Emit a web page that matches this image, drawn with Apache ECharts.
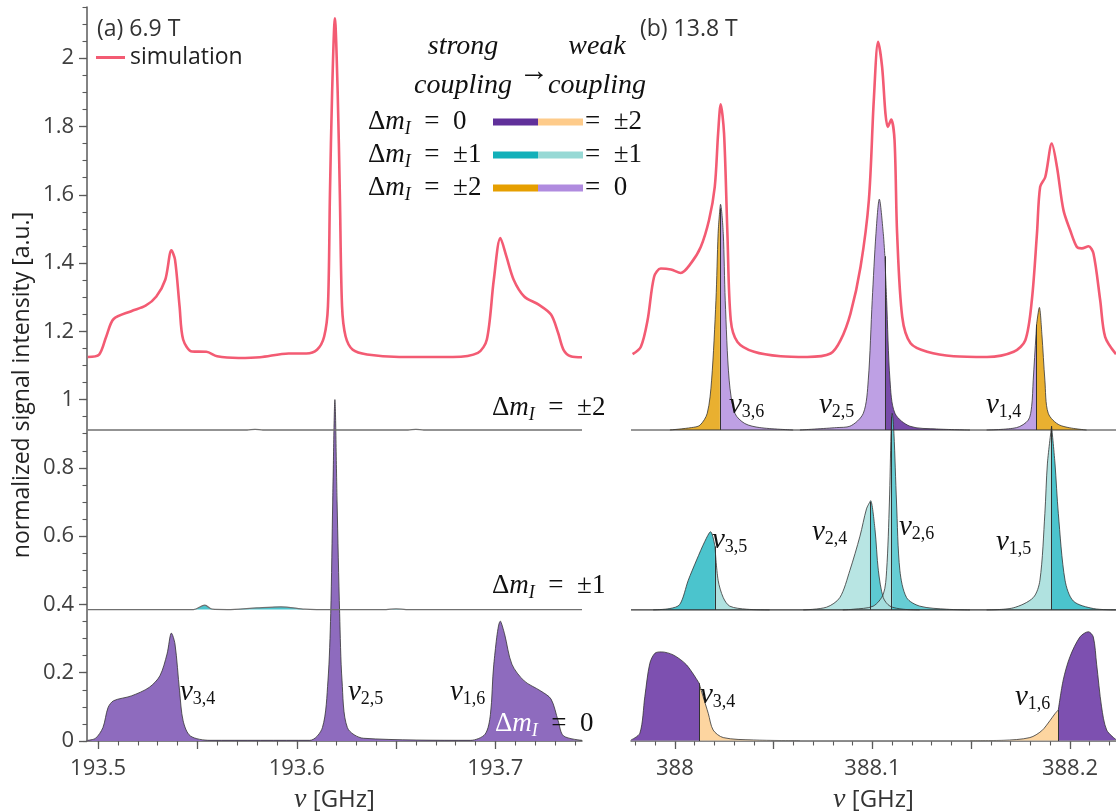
<!DOCTYPE html>
<html><head><meta charset="utf-8">
<script src="https://cdn.jsdelivr.net/npm/echarts@6/dist/echarts.min.js"></script>
<style>html,body{margin:0;padding:0;background:#fff}#c{width:1116px;height:812px}</style>
</head><body><div id="c"></div>
<script>
// ---------- data (GHz, normalized intensity) ----------
// panel (a) 6.9 T
const simA = [[193.4948,1.125],[193.5005,1.132],[193.5041,1.185],[193.5078,1.236],[193.5167,1.259],[193.5239,1.275],[193.5293,1.302],[193.5338,1.351],[193.5369,1.437],[193.5387,1.41],[193.541,1.273],[193.5428,1.176],[193.5473,1.141],[193.5545,1.14],[193.5599,1.127],[193.5707,1.122],[193.5815,1.124],[193.5959,1.135],[193.6048,1.135],[193.6102,1.146],[193.6138,1.185],[193.6157,1.273],[193.6167,1.6],[193.6178,1.9],[193.6192,2.117],[193.6206,1.9],[193.6217,1.6],[193.6228,1.273],[193.6246,1.185],[193.6282,1.146],[193.6354,1.132],[193.6516,1.125],[193.6786,1.125],[193.6912,1.137],[193.6957,1.176],[193.6992,1.351],[193.7025,1.473],[193.7055,1.42],[193.7092,1.351],[193.7145,1.302],[193.7218,1.278],[193.728,1.249],[193.7316,1.195],[193.7343,1.146],[193.7379,1.127],[193.7436,1.124]];
const dm0A = [[193.4948,0.002],[193.4987,0.008],[193.5024,0.039],[193.505,0.098],[193.5078,0.118],[193.5167,0.132],[193.5257,0.157],[193.5311,0.191],[193.5347,0.255],[193.5369,0.316],[193.5387,0.284],[193.541,0.147],[193.5428,0.059],[193.5464,0.015],[193.5563,0.002],[193.6066,0.002],[193.6129,0.039],[193.6157,0.176],[193.6171,0.373],[193.6181,0.7],[193.6192,1.0],[193.6203,0.7],[193.6216,0.373],[193.6228,0.176],[193.6255,0.039],[193.6336,0.008],[193.6875,0.002],[193.6948,0.02],[193.6975,0.078],[193.6992,0.225],[193.7025,0.351],[193.7046,0.314],[193.7083,0.225],[193.7145,0.176],[193.7227,0.147],[193.728,0.123],[193.7316,0.059],[193.7343,0.015],[193.7436,0.002]];
const dm1A = [[193.4948,0.385],[193.548,0.385],[193.5537,0.398],[193.5575,0.386],[193.565,0.385],[193.58,0.39],[193.592,0.393],[193.604,0.386],[193.61,0.385],[193.645,0.385],[193.65,0.387],[193.655,0.385],[193.7436,0.385]];
const dm2A = [[193.4948,0.911],[193.575,0.911],[193.579,0.913],[193.583,0.911],[193.656,0.911],[193.66,0.913],[193.664,0.911],[193.7436,0.911]];
const baseA = [0, 0.385, 0.911];

// panel (b) 13.8 T
const simB = [[387.9786,1.133],[387.9828,1.155],[387.9862,1.233],[387.9895,1.36],[387.9929,1.384],[387.998,1.381],[388.003,1.371],[388.0081,1.399],[388.0131,1.447],[388.0173,1.526],[388.0202,1.623],[388.0219,1.78],[388.0232,1.865],[388.0249,1.78],[388.0266,1.487],[388.0283,1.233],[388.0317,1.169],[388.0401,1.14],[388.0536,1.127],[388.067,1.125],[388.0788,1.135],[388.0839,1.174],[388.0889,1.252],[388.094,1.389],[388.0982,1.584],[388.1007,1.877],[388.1029,2.048],[388.1049,1.975],[388.1066,1.838],[388.1078,1.799],[388.1095,1.82],[388.1112,1.76],[388.1125,1.487],[388.1151,1.242],[388.1193,1.165],[388.1277,1.14],[388.1411,1.127],[388.158,1.125],[388.1715,1.14],[388.1774,1.174],[388.1807,1.291],[388.1833,1.487],[388.1849,1.623],[388.1875,1.652],[388.1908,1.75],[388.1934,1.682],[388.1967,1.555],[388.2001,1.496],[388.2035,1.447],[388.206,1.443],[388.2094,1.449],[388.2119,1.428],[388.2153,1.291],[388.2178,1.184],[388.2233,1.133]];
const baseB = [0, 0.384, 0.911];
// delta m = +-2 band
const nu36Strong = [[387.9975,0.911],[388.0084,0.918],[388.0127,0.925],[388.0164,0.96],[388.0186,1.057],[388.0208,1.291],[388.0219,1.487],[388.0228,1.56]];
const nu36Weak = [[388.0228,1.56],[388.0231,1.572],[388.0245,1.487],[388.0255,1.291],[388.0275,1.057],[388.0304,0.96],[388.0354,0.93],[388.043,0.918],[388.0599,0.911]];
const nu25Weak = [[388.0633,0.911],[388.0819,0.918],[388.0886,0.922],[388.0954,0.96],[388.0979,1.057],[388.0999,1.291],[388.1018,1.487],[388.1035,1.587],[388.1055,1.487],[388.1063,1.42]];
const nu25Dark = [[388.1063,1.42],[388.1072,1.291],[388.1089,1.057],[388.1114,0.96],[388.119,0.922],[388.1325,0.914],[388.1494,0.911]];
const nu14Weak = [[388.1578,0.911],[388.173,0.918],[388.1789,0.94],[388.1806,0.98],[388.1814,1.057],[388.1828,1.19],[388.1831,1.22]];
const nu14Strong = [[388.1831,1.22],[388.1845,1.27],[388.1858,1.19],[388.1873,1.057],[388.189,0.96],[388.1949,0.925],[388.2084,0.911]];
// delta m = +-1 band
const nu35Strong = [[387.989,0.384],[387.9975,0.388],[388.0025,0.4],[388.0068,0.471],[388.011,0.53],[388.0152,0.585],[388.0181,0.613],[388.0203,0.57]];
const nu35Weak = [[388.0203,0.57],[388.0219,0.471],[388.0245,0.42],[388.0278,0.395],[388.0363,0.386],[388.048,0.384]];
const nu24Weak = [[388.065,0.384],[388.0768,0.392],[388.0835,0.42],[388.0886,0.5],[388.0937,0.6],[388.097,0.68],[388.0987,0.7]];
const nu24Strong = [[388.0987,0.7],[388.0991,0.704],[388.1013,0.62],[388.103,0.5],[388.1055,0.42],[388.1089,0.395],[388.1156,0.386],[388.124,0.384]];
const nu26Weak = [[388.085,0.384],[388.0903,0.386],[388.1004,0.395],[388.1055,0.43],[388.1072,0.5],[388.1086,0.7],[388.1094,0.9],[388.1097,0.95]];
const nu26Strong = [[388.1097,0.95],[388.11,0.96],[388.1109,0.9],[388.1122,0.7],[388.1139,0.5],[388.1173,0.42],[388.124,0.395],[388.1376,0.386],[388.1494,0.384]];
const nu15Weak = [[388.1578,0.384],[388.1713,0.39],[388.1814,0.42],[388.1848,0.471],[388.1873,0.667],[388.1886,0.814],[388.1907,0.922]];
const nu15Strong = [[388.1907,0.922],[388.1924,0.814],[388.1941,0.667],[388.1975,0.471],[388.2017,0.41],[388.2118,0.388],[388.2232,0.384]];
// delta m = 0 band
const nu34Strong = [[387.9778,0.003],[387.9823,0.023],[387.9848,0.13],[387.9873,0.227],[387.9899,0.257],[387.9932,0.261],[387.9992,0.252],[388.0059,0.223],[388.0123,0.169]];
const nu34Weak = [[388.0123,0.169],[388.0143,0.13],[388.0169,0.081],[388.0194,0.032],[388.0245,0.01],[388.0397,0.003],[388.0633,0.001]];
const nu16Weak = [[388.1494,0.001],[388.1662,0.002],[388.1797,0.01],[388.1857,0.03],[388.1899,0.06],[388.1924,0.08],[388.1941,0.091]];
const nu16Strong = [[388.1941,0.091],[388.1966,0.179],[388.2,0.247],[388.2051,0.305],[388.2093,0.32],[388.2118,0.305],[388.2135,0.225],[388.216,0.1],[388.2186,0.032],[388.2233,0.004]];

// axes / ticks
const xRangeA = [193.4944, 193.7436];
const xRangeB = [387.9778, 388.2233];
const yRange = [0, 2.15];
const xTicksA = [193.5, 193.55, 193.6, 193.65, 193.7];
const xLabelsA = [193.5, 193.6, 193.7];
const xTicksB = [388, 388.05, 388.1, 388.15, 388.2];
const xLabelsB = [388, 388.1, 388.2];
const yTicks = [0, 0.2, 0.4, 0.6, 0.8, 1, 1.2, 1.4, 1.6, 1.8, 2];
function stepTicks(a, b, s) { const r = []; for (let v = a; v <= b + 1e-9; v += s) r.push(+v.toFixed(4)); return r; }
const xMinorA = stepTicks(193.50, 193.74, 0.01);
const xMinorB = stepTicks(387.98, 388.22, 0.01);
const yMinor = stepTicks(0, 2.15, 0.05);

// ---------- style ----------
const SANS = "'Open Sans', 'Noto Sans', sans-serif";
const SERIF = "'Liberation Serif', 'DejaVu Serif', serif";
const PINK = '#F35B73';
const AX = '#5a5a5a';
const C = {
  purpleA: '#8E6BBE', dark: '#7D50B0', dark2: '#784BAA', peach: '#FDD5A0',
  orange: '#E9B030', lilac: '#BEA0E4', teal: '#4BC4CD', lteal: '#B0E2E0'
};
const LEG = { dark: '#60309A', peach: '#FECB8A', teal: '#12B0B9', lteal: '#97D9D5', orange: '#E69F00', lilac: '#B08BDF' };

const chart = echarts.init(document.getElementById('c'), null, { renderer: 'canvas' });

function mainX(grid, range, ticks, labels) {
  return {
    type: 'value', gridIndex: grid, min: range[0], max: range[1], position: 'bottom', offset: 0,
    axisLine: { show: true, onZero: false, lineStyle: { color: AX, width: 1.5 } },
    axisTick: { show: true, length: 8, customValues: ticks, lineStyle: { color: AX, width: 1.3 } },
    axisLabel: { show: true, customValues: labels, fontSize: 22, fontFamily: SANS, color: '#404040', margin: 17,
      formatter: v => String(+(+v).toFixed(2)) },
    splitLine: { show: false },
    name: '{v|ν} [GHz]', nameLocation: 'middle', nameGap: 45,
    nameTextStyle: { fontSize: 24, fontFamily: SANS, color: '#333',
      rich: { v: { fontFamily: SERIF, fontStyle: 'italic', fontSize: 28, color: '#333' } } }
  };
}
function minorX(grid, range, ticks) {
  return {
    type: 'value', gridIndex: grid, min: range[0], max: range[1], position: 'bottom', offset: 0,
    axisLine: { show: false }, splitLine: { show: false }, axisLabel: { show: false },
    axisTick: { show: true, length: 4.5, customValues: ticks, lineStyle: { color: AX, width: 1.1 } }
  };
}

const series = [];
function line(xi, data, opt) {
  return Object.assign({
    type: 'line', xAxisIndex: xi, yAxisIndex: xi === 0 ? 0 : 2, data: data, symbol: 'none', showSymbol: false,
    smooth: 0.3, silent: true, animation: false, clip: true
  }, opt);
}
// panel (a)
series.push(line(0, dm0A, { z: 2, lineStyle: { color: '#333', width: 0.8 }, areaStyle: { color: C.purpleA, opacity: 1, origin: baseA[0] } }));
series.push(line(0, dm2A, { z: 3, lineStyle: { color: '#707070', width: 1.3 }, areaStyle: { color: '#d8b27a', opacity: 1, origin: baseA[2] } }));
series.push(line(0, dm1A, { z: 3, lineStyle: { color: '#707070', width: 1.3 }, areaStyle: { color: C.teal, opacity: 1, origin: baseA[1] } }));
series.push(line(0, simA, { name: 'simulation', z: 5, lineStyle: { color: PINK, width: 2.6 }, itemStyle: { color: PINK } }));

// panel (b): baselines
baseB.forEach(b => {
  series.push(line(2, [[xRangeB[0], b], [xRangeB[1], b]], { z: 3, smooth: false,
    lineStyle: { color: b === 0 ? '#9a9a9a' : '#333', width: 1.2 } }));
});
// split peaks: [leftPiece, leftColor, rightPiece, rightColor, base, opacity]
const pairs = [
  [nu36Strong, C.orange, nu36Weak, C.lilac, baseB[2], 1],
  [nu25Weak, C.lilac, nu25Dark, C.dark2, baseB[2], 1],
  [nu14Weak, C.lilac, nu14Strong, C.orange, baseB[2], 1],
  [nu35Strong, C.teal, nu35Weak, C.lteal, baseB[1], 1],
  [nu24Weak, C.lteal, nu24Strong, C.teal, baseB[1], 0.9],
  [nu26Weak, C.lteal, nu26Strong, C.teal, baseB[1], 0.85],
  [nu15Weak, C.lteal, nu15Strong, C.teal, baseB[1], 1],
  [nu34Strong, C.dark, nu34Weak, C.peach, baseB[0], 1],
  [nu16Weak, C.peach, nu16Strong, C.dark, baseB[0], 1]
];
pairs.forEach((p, i) => {
  const last = p[0][p[0].length - 1];
  series.push(line(2, p[0], { z: 2, lineStyle: { color: '#333', width: 0.8 },
    areaStyle: { color: p[1], opacity: p[5], origin: p[4] },
    markLine: { silent: true, symbol: ['none', 'none'], animation: false, label: { show: false },
      lineStyle: { color: '#333', width: 1, type: 'solid' },
      data: [[{ coord: [last[0], p[4]] }, { coord: [last[0], last[1]] }]] } }));
  series.push(line(2, p[2], { z: 2, lineStyle: { color: '#333', width: 0.8 },
    areaStyle: { color: p[3], opacity: p[5], origin: p[4] } }));
});
series.push(line(2, simB, { name: 'simulation', z: 5, lineStyle: { color: PINK, width: 2.6 }, itemStyle: { color: PINK } }));

// ---------- text ----------
const RICH = {
  n: { fontFamily: SERIF, fontStyle: 'italic', fontSize: 29, fill: '#111' },
  s: { fontFamily: SERIF, fontSize: 18, fill: '#111', padding: [14, 0, 0, 0] },
  d: { fontFamily: SERIF, fontSize: 27, fill: '#111' },
  m: { fontFamily: SERIF, fontStyle: 'italic', fontSize: 27, fill: '#111' },
  i: { fontFamily: SERIF, fontStyle: 'italic', fontSize: 18, fill: '#111', padding: [14, 0, 0, 0] },
  e: { fontFamily: SERIF, fontSize: 27, fill: '#111' },
  dw: { fontFamily: SERIF, fontSize: 27, fill: '#fff' },
  mw: { fontFamily: SERIF, fontStyle: 'italic', fontSize: 27, fill: '#fff' },
  iw: { fontFamily: SERIF, fontStyle: 'italic', fontSize: 18, fill: '#fff', padding: [14, 0, 0, 0] }
};
const SP = '\u2002';
function txt(x, y, text, extra) {
  return { type: 'text', x: x, y: y, z: 100, silent: true,
    style: Object.assign({ text: text, rich: RICH, align: 'left', verticalAlign: 'middle', fill: '#111',
      font: '27px ' + SERIF }, extra || {}) };
}
const nu = s => '{n|ν}{s|' + s + '}';
const dm = s => '{d|Δ}{m|m}{i|I}{e|' + SP + '=' + SP + s + '}';

const graphics = [
  txt(97, 29, '(a) 6.9 T', { font: '23px ' + SANS, fill: '#333' }),
  txt(640, 29, '(b) 13.8 T', { font: '23px ' + SANS, fill: '#333' }),
  { type: 'text', x: 22, y: 385, rotation: Math.PI / 2, z: 100, silent: true,
    style: { text: 'normalized signal intensity [a.u.]', font: '23px ' + SANS, fill: '#222', align: 'center', verticalAlign: 'middle' } },
  // legend block
  txt(463, 47, 'strong', { align: 'center', font: 'italic 28px ' + SERIF }),
  txt(463, 86, 'coupling', { align: 'center', font: 'italic 28px ' + SERIF }),
  txt(534, 72, '→', { align: 'center', font: '30px ' + SERIF }),
  txt(597, 47, 'weak', { align: 'center', font: 'italic 28px ' + SERIF }),
  txt(597, 86, 'coupling', { align: 'center', font: 'italic 28px ' + SERIF }),
  txt(368, 122, dm('0')), txt(368, 155, dm('±1')), txt(368, 188, dm('±2')),
  txt(585, 122, '=' + SP + '±2'), txt(585, 155, '=' + SP + '±1'), txt(585, 188, '=' + SP + '0'),
  // panel (a) labels
  txt(180, 692, nu('3,4')), txt(348, 692, nu('2,5')), txt(450, 692, nu('1,6')),
  txt(492, 408, dm('±2')), txt(492, 586, dm('±1')),
  txt(495, 724, '{dw|Δ}{mw|m}{iw|I}{e|' + SP + '=' + SP + '0}'),
  // panel (b) labels
  txt(729, 405, nu('3,6')), txt(819, 405, nu('2,5')), txt(986, 405, nu('1,4')),
  txt(712, 540, nu('3,5')), txt(812, 532, nu('2,4')), txt(899, 527, nu('2,6')), txt(996, 542, nu('1,5')),
  txt(700, 695, nu('3,4')), txt(1015, 697, nu('1,6'))
];
const legendRows = [[LEG.dark, LEG.peach, 122], [LEG.teal, LEG.lteal, 155], [LEG.orange, LEG.lilac, 188]];
legendRows.forEach(r => {
  graphics.push({ type: 'rect', z: 100, silent: true, shape: { x: 493, y: r[2] - 3.5, width: 45, height: 7 }, style: { fill: r[0] } });
  graphics.push({ type: 'rect', z: 100, silent: true, shape: { x: 538, y: r[2] - 3.5, width: 45, height: 7 }, style: { fill: r[1] } });
});

const option = {
  animation: false,
  backgroundColor: '#fff',
  grid: [
    { left: 87, right: 534, top: 7, bottom: 71, containLabel: false, outerBoundsMode: 'none' },
    { left: 631, right: 0, top: 7, bottom: 71, containLabel: false, outerBoundsMode: 'none' }
  ],
  xAxis: [mainX(0, xRangeA, xTicksA, xLabelsA), minorX(0, xRangeA, xMinorA), mainX(1, xRangeB, xTicksB, xLabelsB), minorX(1, xRangeB, xMinorB)],
  yAxis: [
    { type: 'value', gridIndex: 0, min: yRange[0], max: yRange[1], position: 'left', offset: 0,
      axisLine: { show: true, lineStyle: { color: AX, width: 1.5 } },
      axisTick: { show: true, length: 8, customValues: yTicks, lineStyle: { color: AX, width: 1.3 } },
      axisLabel: { show: true, customValues: yTicks, fontSize: 22, fontFamily: SANS, color: '#404040', margin: 13,
        formatter: v => String(+(+v).toFixed(2)) },
      splitLine: { show: false } },
    { type: 'value', gridIndex: 0, min: yRange[0], max: yRange[1], position: 'left', offset: 0,
      axisLine: { show: false }, axisLabel: { show: false }, splitLine: { show: false },
      axisTick: { show: true, length: 4.5, customValues: yMinor, lineStyle: { color: AX, width: 1.1 } } },
    { type: 'value', gridIndex: 1, min: yRange[0], max: yRange[1], show: false, splitLine: { show: false } }
  ],
  legend: { data: ['simulation'], left: 96, top: 46, padding: 0, icon: 'rect', itemWidth: 29, itemHeight: 3, itemGap: 6,
    textStyle: { fontSize: 23, fontFamily: SANS, color: '#222' }, selectedMode: false },
  series: series,
  graphic: graphics
};
chart.setOption(option);
</script></body></html>
